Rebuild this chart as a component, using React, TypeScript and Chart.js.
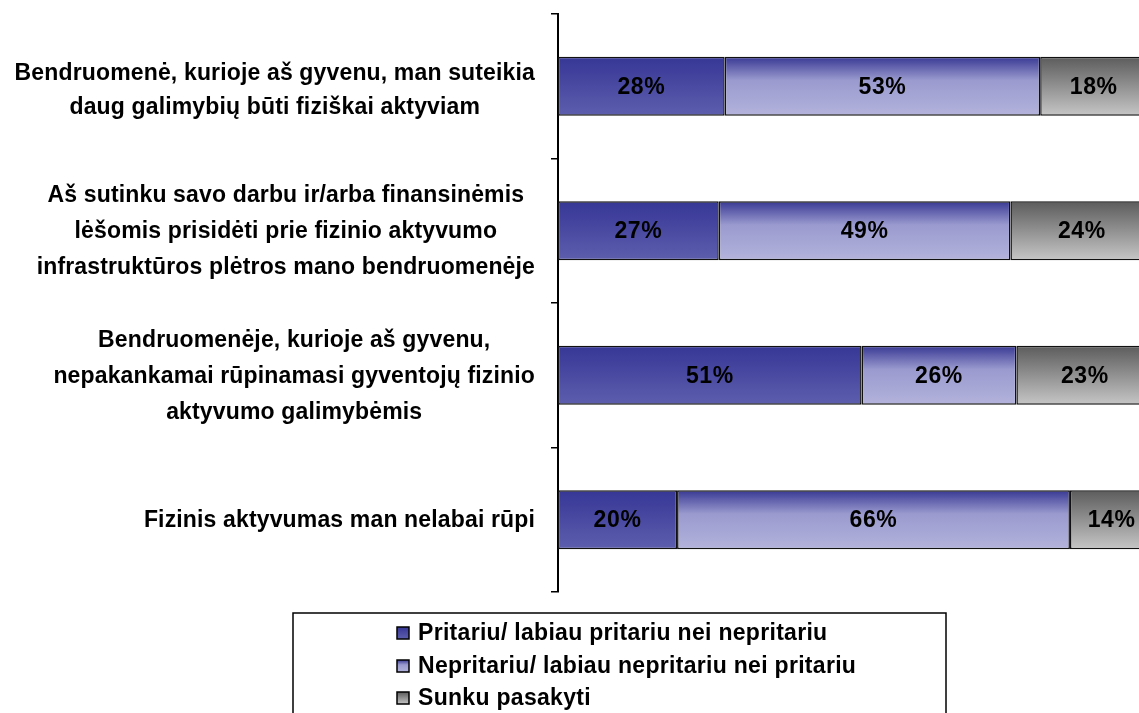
import React, { useEffect, useRef } from "react";
import { Chart, registerables } from "chart.js";

Chart.register(...registerables);

// ---- data ----
const categories: string[][] = [
  ["Bendruomenė, kurioje aš gyvenu, man suteikia", "daug galimybių būti fiziškai aktyviam"],
  [
    "Aš sutinku savo darbu ir/arba finansinėmis",
    "lėšomis prisidėti prie fizinio aktyvumo",
    "infrastruktūros plėtros mano bendruomenėje",
  ],
  [
    "Bendruomenėje, kurioje aš gyvenu,",
    "nepakankamai rūpinamasi gyventojų fizinio",
    "aktyvumo galimybėmis",
  ],
  ["Fizinis aktyvumas man nelabai rūpi"],
];
const seriesNames = [
  "Pritariu/ labiau pritariu nei nepritariu",
  "Nepritariu/ labiau nepritariu nei pritariu",
  "Sunku pasakyti",
];
const agree = [28, 27, 51, 20];
const disagree = [53, 49, 26, 66];
const hardToSay = [18, 24, 23, 14];

// ---- styles ----
const FONT_FAMILY = '"Liberation Sans", Arial, sans-serif';
const FONT = `bold 23px ${FONT_FAMILY}`;
const gradientStops: [number, string][][] = [
  [
    [0, "#363696"],
    [1, "#5e5eae"],
  ],
  [
    [0, "#383894"],
    [0.4, "#9a9acf"],
    [1, "#b3b3dc"],
  ],
  [
    [0, "#5c5c5c"],
    [1, "#c6c6c6"],
  ],
];
const CAT_PCT = 0.408;

function makeGradient(ctx: CanvasRenderingContext2D, top: number, bottom: number, stops: [number, string][]) {
  const g = ctx.createLinearGradient(0, top, 0, bottom);
  stops.forEach(([o, c]) => g.addColorStop(o, c));
  return g;
}

function barFill(seriesIdx: number) {
  return (context: any) => {
    const chart = context.chart;
    const y = chart.scales?.y;
    const fallback = gradientStops[seriesIdx][0][1];
    if (!y || typeof context.dataIndex !== "number") return fallback;
    const center = y.getPixelForValue(context.dataIndex);
    const band = (y.bottom - y.top) / categories.length;
    const h = band * CAT_PCT;
    if (!Number.isFinite(center) || !Number.isFinite(h) || h <= 0) return fallback;
    return makeGradient(chart.ctx, center - h / 2, center + h / 2, gradientStops[seriesIdx]);
  };
}

function setSpacing(ctx: any, px: number) {
  if ("letterSpacing" in ctx) ctx.letterSpacing = `${px}px`;
}

const labelsPlugin = {
  id: "customLabels",
  afterDatasetsDraw(chart: any) {
    const ctx: CanvasRenderingContext2D = chart.ctx;
    ctx.save();
    ctx.font = FONT;
    setSpacing(ctx, 0.6);
    ctx.fillStyle = "#000";
    ctx.textAlign = "center";
    ctx.textBaseline = "middle";
    chart.data.datasets.forEach((ds: any, di: number) => {
      const meta = chart.getDatasetMeta(di);
      meta.data.forEach((el: any, i: number) => {
        const p = el.getCenterPoint();
        ctx.fillText(`${ds.data[i]}%`, p.x, p.y + 1);
      });
    });
    ctx.restore();
  },
  afterDraw(chart: any) {
    const ctx: CanvasRenderingContext2D = chart.ctx;
    const y = chart.scales.y;
    ctx.save();
    ctx.font = FONT;
    setSpacing(ctx, 0.15);
    ctx.fillStyle = "#000";
    ctx.textAlign = "center";
    ctx.textBaseline = "middle";
    const right = chart.chartArea.left - 23;
    const lineH = 36;
    categories.forEach((lines, i) => {
      const widest = Math.max(...lines.map((l) => ctx.measureText(l).width));
      const cx = right - widest / 2;
      const cy = y.getPixelForValue(i) + (lines.length === 2 ? 3 : 0);
      const lh = lines.length === 2 ? 34 : lineH;
      const start = cy - ((lines.length - 1) * lh) / 2;
      lines.forEach((l, k) => ctx.fillText(l, cx, start + k * lh + 1));
    });

    // legend
    const boxL = 293, boxT = 613, boxR = 946, boxB = 740;
    ctx.lineWidth = 1.5;
    ctx.strokeStyle = "#000";
    ctx.strokeRect(boxL, boxT, boxR - boxL, boxB - boxT);
    const rows = [633, 666, 698];
    ctx.textAlign = "left";
    setSpacing(ctx, 0.3);
    seriesNames.forEach((name, i) => {
      const sq = 12;
      const sx = 397, sy = rows[i] - sq / 2;
      ctx.fillStyle = makeGradient(ctx, sy, sy + sq, gradientStops[i]);
      ctx.fillRect(sx, sy, sq, sq);
      ctx.lineWidth = 1.5;
      ctx.strokeStyle = "#000";
      ctx.strokeRect(sx, sy, sq, sq);
      ctx.fillStyle = "#000";
      ctx.fillText(name, 418, rows[i] + 1);
    });
    ctx.restore();
  },
};

export default function App() {
  const ref = useRef<HTMLCanvasElement>(null);
  useEffect(() => {
    if (!ref.current) return;
    const series = [agree, disagree, hardToSay];
    const chart = new Chart(ref.current, {
      type: "bar",
      data: {
        labels: categories.map((c) => c.join(" ")),
        datasets: series.map((data, i) => ({
          label: seriesNames[i],
          data,
          backgroundColor: barFill(i),
          borderColor: "#111",
          borderWidth: 1.5,
          borderSkipped: false,
          barPercentage: 1,
          categoryPercentage: CAT_PCT,
        })),
      },
      options: {
        indexAxis: "y",
        animation: false,
        responsive: true,
        maintainAspectRatio: false,
        layout: { padding: { left: 551, top: 14, bottom: 121, right: 0 } },
        plugins: { legend: { display: false }, tooltip: { enabled: false } },
        scales: {
          x: {
            stacked: true,
            display: false,
            min: 0,
            max: 97.6,
          },
          y: {
            stacked: true,
            offset: true,
            ticks: { display: false },
            grid: {
              offset: true,
              drawOnChartArea: false,
              drawTicks: true,
              tickLength: 7,
              color: "#000",
              lineWidth: 1.5,
            },
            border: { display: true, color: "#000", width: 2 },
          },
        },
      },
      plugins: [labelsPlugin],
    });
    return () => chart.destroy();
  }, []);
  return (
    <div style={{ position: "fixed", left: 0, top: 0, width: 1139, height: 713, background: "#fff" }}>
      <canvas ref={ref} />
    </div>
  );
}
